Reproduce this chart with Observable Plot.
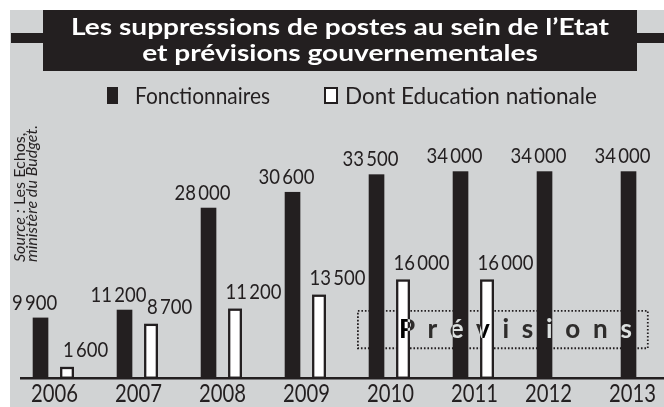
<!DOCTYPE html>
<html><head><meta charset="utf-8">
<script src="https://cdn.jsdelivr.net/npm/d3@7"></script>
<script src="https://cdn.jsdelivr.net/npm/@observablehq/plot@0.6"></script>
<style>
html,body{margin:0;padding:0;background:#fff;}
body{width:664px;height:407px;position:relative;overflow:hidden;font-family:Lato,"Open Sans",sans-serif;color:#231f20;}
#wrap{position:absolute;left:10px;top:10px;width:654px;height:397px;background:#d1d3d4;overflow:hidden;}
#header{position:absolute;left:0;top:0;width:654px;height:105px;}
#rule{position:absolute;left:1px;right:0;top:23px;height:10px;background:#231f20;}
#title{position:absolute;left:33px;top:0;width:594px;height:61px;background:#231f20;color:#fff;text-align:center;font-weight:700;font-size:23.3px;line-height:25.7px;padding-top:4px;box-sizing:border-box;}
#title .tl{white-space:nowrap;transform-origin:50% 50%;}
.sw{position:absolute;box-sizing:border-box;}
.lg{position:absolute;font-size:23.3px;line-height:normal;white-space:nowrap;transform-origin:0 0;}
#source{position:absolute;left:3px;top:252px;transform-origin:0 0;transform:rotate(-90deg);white-space:nowrap;font-size:13.5px;line-height:11.7px;}
#source div{white-space:nowrap;}
#chart{position:absolute;left:0;top:105px;}
</style></head>
<body>
<div id="wrap">
  <div id="header">
    <div id="rule"></div>
    <div id="title"></div>
    <div id="legend"></div>
  </div>
  <div id="chart"></div>
  <div id="source"></div>
</div>
<script>
// ---- data ----
const years = ["2006", "2007", "2008", "2009", "2010", "2011", "2012", "2013"];
const fonctionnaires = [9900, 11200, 28000, 30600, 33500, 34000, 34000, 34000];
const education = [1600, 8700, 11200, 13500, 16000, 16000, null, null];
const seriesNames = ["Fonctionnaires", "Dont Education nationale"];
const forecastYears = ["2010", "2011", "2012", "2013"];
const forecastRange = [4850, 11000];
const forecastLabel = "Prévisions";
const titleLines = ["Les suppressions de postes au sein de l\u2019Etat", "et prévisions gouvernementales"];
const sourceLine1 = ["Source :", "Les Echos,"];
const sourceLine2 = ["ministère du", "Budget."];

const ink = "#231f20", bg = "#d1d3d4";

// ---- header (title, legend, source) ----
const title = document.getElementById("title");
titleLines.forEach(t => {
  const d = document.createElement("div"); d.className = "tl";
  const s = document.createElement("span"); s.textContent = t;
  d.appendChild(s); title.appendChild(d);
});
{
  const w1 = title.querySelector("span").getBoundingClientRect().width;
  const f = 538 / w1;
  title.querySelectorAll(".tl").forEach(d => d.style.transform = `scaleX(${f})`);
}

const legend = document.getElementById("legend");
function addSwatch(left, top, w, h, filled) {
  const s = document.createElement("div"); s.className = "sw";
  Object.assign(s.style, {left: left + "px", top: top + "px", width: w + "px", height: h + "px",
    background: filled ? ink : "#fff", border: filled ? "none" : `2.5px solid ${ink}`});
  legend.appendChild(s);
}
function addLabel(text, left, baseline, target) {
  const s = document.createElement("span"); s.className = "lg"; s.textContent = text;
  legend.appendChild(s);
  const fs = 23.3;
  s.style.left = left + "px";
  s.style.top = (baseline - 0.987 * fs) + "px";
  const w = s.getBoundingClientRect().width;
  s.style.transform = `scaleX(${target / w})`;
}
addSwatch(96.7, 77.3, 11.6, 16.8, true);
addLabel(seriesNames[0], 125, 94, 135);
addSwatch(313.5, 77.3, 14, 17.2, false);
addLabel(seriesNames[1], 335, 94, 252);

const source = document.getElementById("source");
source.innerHTML = `<div><i>${sourceLine1[0]}</i> ${sourceLine1[1]}</div><div><i>${sourceLine2[0]} ${sourceLine2[1]}</i></div>`;
{
  const w = source.firstChild.getBoundingClientRect().height; // rotated: length is height
  const fs = 13.5 * 137 / w;
  source.style.fontSize = fs + "px";
}

// ---- chart ----
const fmt = d3.formatLocale({decimal: ",", thousands: "\u2009", grouping: [3], currency: ["", ""]}).format(",d");
const rowsF = years.map((year, i) => ({year, value: fonctionnaires[i]}));
const rowsE = years.map((year, i) => ({year, value: education[i]})).filter(d => d.value != null);
const yearsWithE = rowsE.map(d => d.year);
const yearsWithoutE = years.filter(y => !yearsWithE.includes(y));

function forecastBox(index, scales) {
  const {x, y} = scales;
  const x1 = x(forecastYears[0]) + 9.9;
  const x2 = x(forecastYears[forecastYears.length - 1]) + 47.8;
  const y1 = y(forecastRange[1]), y2 = y(forecastRange[0]);
  return d3.create("svg:rect")
    .attr("x", x1).attr("y", y1).attr("width", x2 - x1).attr("height", y2 - y1)
    .attr("fill", "none").attr("stroke", ink).attr("stroke-width", 1.8)
    .attr("stroke-dasharray", "1.6 1.9").node();
}

const svg = Plot.plot({
  width: 654, height: 292,
  marginLeft: 10, marginRight: 0, marginTop: 0, marginBottom: 0,
  style: {background: bg, fontFamily: "Lato, 'Open Sans', sans-serif", color: ink, overflow: "visible"},
  x: {type: "band", domain: years, range: [1, 675.9], padding: 0, axis: null},
  y: {domain: [0, 34000], range: [262.7, 56.3], axis: null},
  marks: [
    forecastBox,
    Plot.barY(rowsF, {x: "year", y: "value", fill: ink, insetLeft: 20.7, insetRight: 47.66}),
    Plot.barY(rowsE, {x: "year", y: "value", fill: "white", stroke: ink, strokeWidth: 2.3, insetLeft: 49.2, insetRight: 23.16}),
    Plot.ruleY([0], {stroke: ink, strokeWidth: 2.6}),
    Plot.text(rowsF, {x: "year", y: "value", text: d => fmt(d.value), dx: -20, dy: -8.5, lineAnchor: "bottom", fontSize: 21, fill: ink, ariaDescription: "values"}),
    Plot.text(rowsE, {x: "year", y: "value", text: d => fmt(d.value), dx: 31, dy: -11, lineAnchor: "bottom", fontSize: 21, fill: ink, ariaDescription: "values"}),
    Plot.text(yearsWithE, {x: d => d, y: () => 0, text: d => d, dy: 23.8, lineAnchor: "bottom", fontSize: 25.5, fill: ink, ariaDescription: "years"}),
    Plot.text(yearsWithoutE, {x: d => d, y: () => 0, text: d => d, dx: -10, dy: 23.8, lineAnchor: "bottom", fontSize: 25.5, fill: ink, ariaDescription: "years"}),
    Plot.text([forecastLabel], {x: () => forecastYears[0], y: () => (forecastRange[0] + forecastRange[1]) / 2, text: d => d, textAnchor: "start", lineAnchor: "middle", dx: 8.4, fill: "white", fontWeight: "bold", fontSize: 26, mixBlendMode: "difference", ariaDescription: "forecast"})
  ]
});
document.getElementById("chart").appendChild(svg);

// condense number fonts to the narrow newspaper face
function condense(desc, sampleText, target) {
  const texts = [...svg.querySelectorAll(`g[aria-description="${desc}"] text`)];
  if (!texts.length) return;
  const sample = texts.find(t => t.textContent === sampleText) || texts[0];
  const f = target / sample.getComputedTextLength();
  texts.forEach(t => t.setAttribute("transform", (t.getAttribute("transform") || "") + ` scale(${f},1)`));
}
condense("values", fmt(34000), 56);
condense("years", "2006", 47);
{
  const t = svg.querySelector(`g[aria-description="forecast"] text`);
  if (t) {
    const n = t.getComputedTextLength();
    const ls = (233 - n) / (forecastLabel.length - 1);
    t.style.letterSpacing = ls + "px";
  }
}
</script>
</body></html>
